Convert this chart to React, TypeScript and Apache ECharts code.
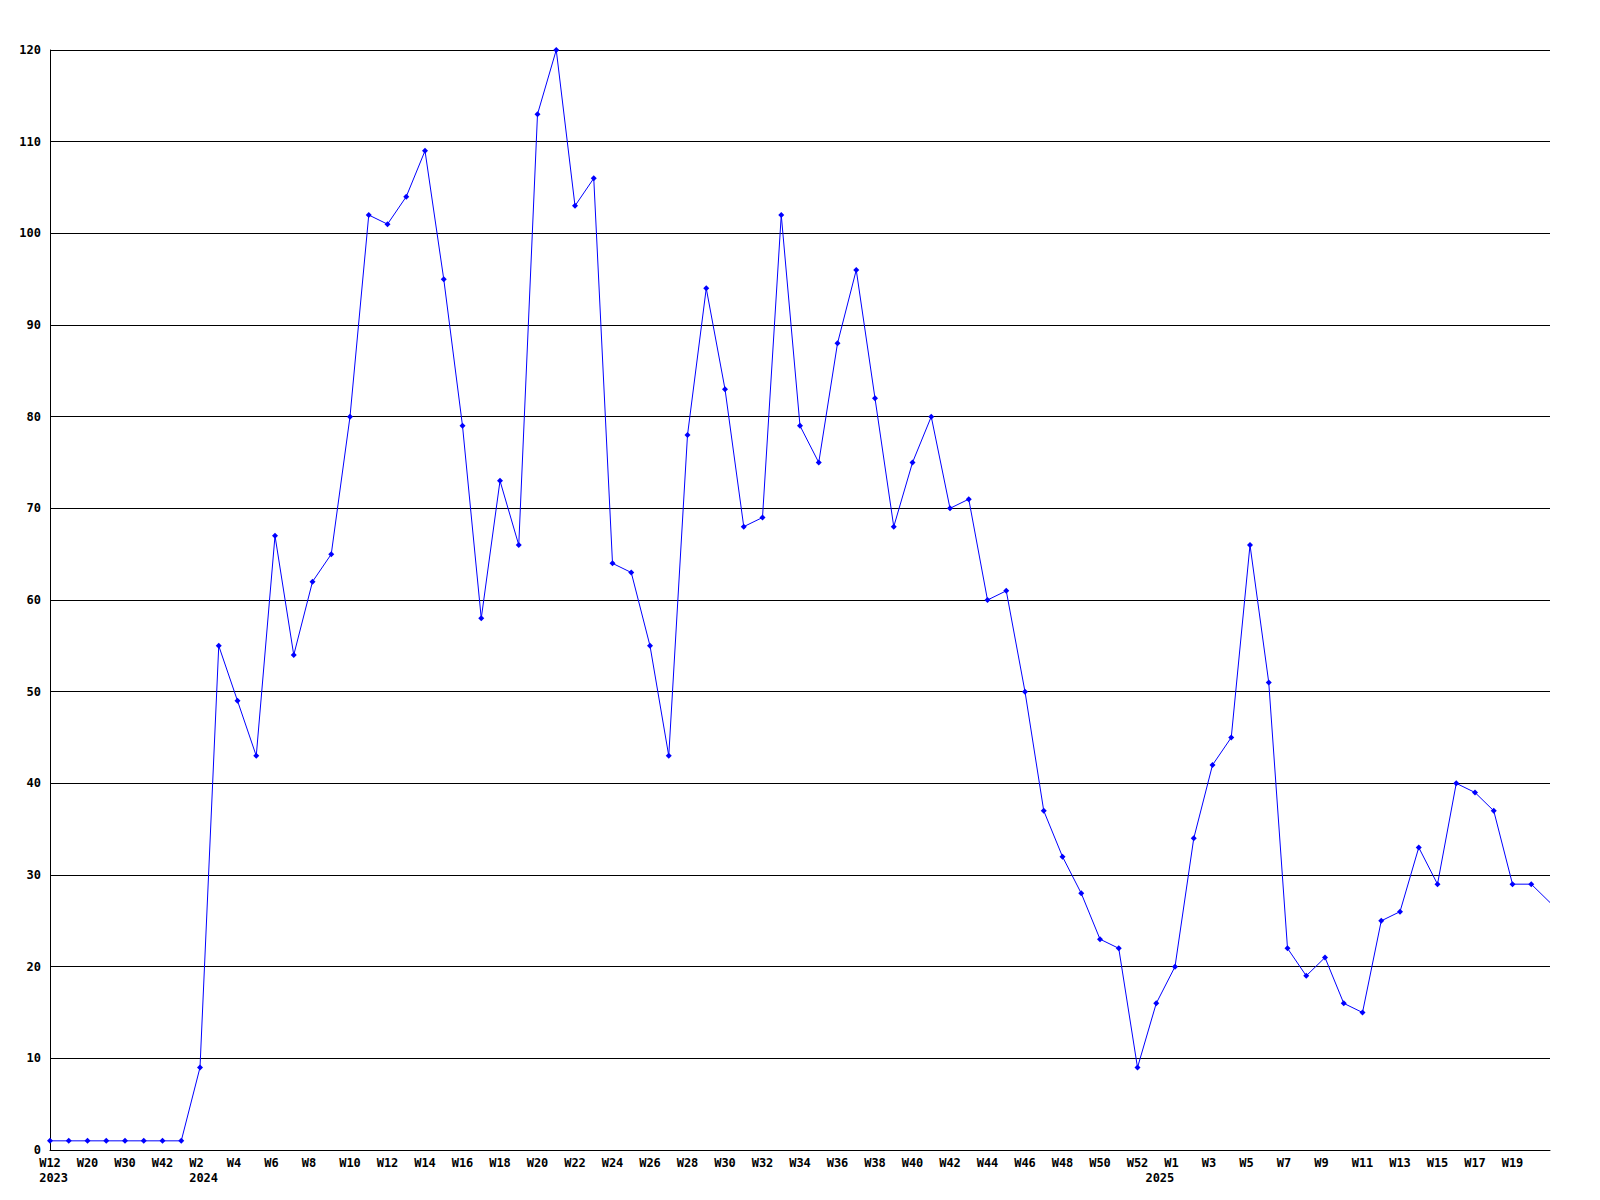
import React, { useEffect, useRef } from "react";
import * as echarts from "echarts";

const weeks2023: string[] = ["W12", "W16", "W20", "W25", "W30", "W36", "W42"];
const weeks2024: string[] = Array.from({ length: 53 }, (_, i) => "W" + (i + 1));
const weeks2025: string[] = Array.from({ length: 21 }, (_, i) => "W" + (i + 1));
const categories: string[] = [...weeks2023, ...weeks2024, ...weeks2025];

// year marks: category index -> year text
const yearMarks: Record<number, string> = { 0: "2023", 8: "2024", 59: "2025" };

const values2023: number[] = [1, 1, 1, 1, 1, 1, 1];
const values2024: number[] = [
  1, 9, 55, 49, 43, 67, 54, 62, 65, 80, 102, 101, 104, 109, 95, 79, 58, 73, 66, 113,
  120, 103, 106, 64, 63, 55, 43, 78, 94, 83, 68, 69, 102, 79, 75, 88, 96, 82, 68, 75,
  80, 70, 71, 60, 61, 50, 37, 32, 28, 23, 22, 9, 16,
];
const values2025: number[] = [20, 34, 42, 45, 66, 51, 22, 19, 21, 16, 15, 25, 26, 33, 29, 40, 39, 37, 29, 29, 27];
const values: number[] = [...values2023, ...values2024, ...values2025];

const yTicks = { min: 0, max: 120, interval: 10 };

const FONT = "DejaVu Sans Mono";

export default function App() {
  const ref = useRef<HTMLDivElement>(null);
  useEffect(() => {
    document.body.style.margin = "0";
    if (!ref.current) return;
    const chart = echarts.init(ref.current, null, { renderer: "svg" });
    const last = values.length - 1;
    const data = values.map((v, i) => (i === last ? { value: v, symbol: "none" } : v));
    chart.setOption({
      animation: false,
      backgroundColor: "#ffffff",
      grid: { left: 50, right: 50, top: 50, bottom: 50, containLabel: false },
      xAxis: {
        type: "category",
        data: categories,
        boundaryGap: false,
        axisLine: { show: true, lineStyle: { color: "#000", width: 1 } },
        axisTick: { show: false },
        splitLine: { show: false },
        axisLabel: {
          interval: 0,
          margin: 5,
          color: "#000",
          fontFamily: FONT,
          fontWeight: "bold",
          fontSize: 12,
          lineHeight: 15,
          align: "center",
          verticalAlign: "top",
          formatter: (val: string, idx: number) => {
            let w = idx % 2 === 0 && idx !== last ? val : "";
            if (w.length === 2) w = w + "\u00a0";
            const y = yearMarks[idx];
            return y ? w + "\n\u00a0" + y : w;
          },
        },
      },
      yAxis: {
        type: "value",
        min: yTicks.min,
        max: yTicks.max,
        interval: yTicks.interval,
        axisLine: { show: true, lineStyle: { color: "#000", width: 1 } },
        axisTick: { show: false },
        splitLine: { show: true, lineStyle: { color: "#000", width: 1 } },
        axisLabel: {
          margin: 9,
          color: "#000",
          fontFamily: FONT,
          fontWeight: "bold",
          fontSize: 12,
        },
      },
      series: [
        {
          type: "line",
          data,
          symbol: "diamond",
          symbolSize: 6,
          showAllSymbol: true,
          clip: false,
          lineStyle: { color: "#0000ff", width: 1 },
          itemStyle: { color: "#0000ff" },
        },
      ],
    });
    return () => chart.dispose();
  }, []);
  return <div ref={ref} style={{ width: 1600, height: 1200 }} />;
}
